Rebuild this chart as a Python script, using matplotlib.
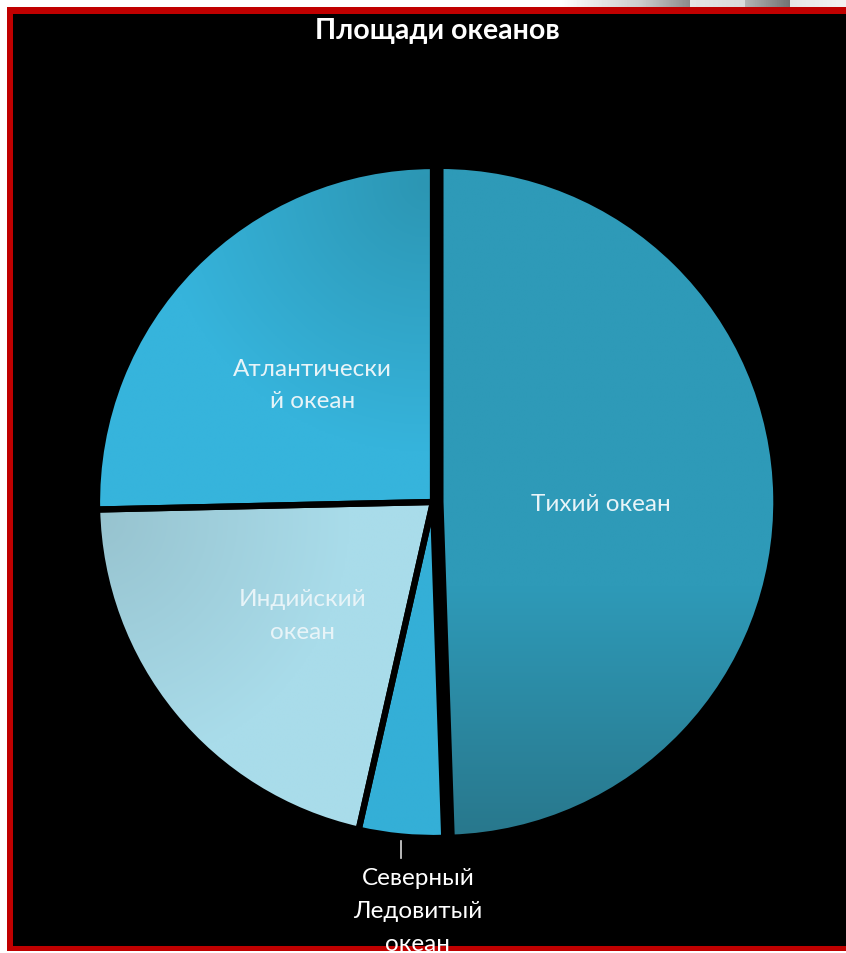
import numpy as np
import matplotlib.pyplot as plt
from matplotlib.patches import Rectangle
from matplotlib.colors import LinearSegmentedColormap

plt.rcParams['font.family'] = ['Lato', 'DejaVu Sans']

# площади океанов, млн км2 (по часовой стрелке от верха)
oceans = ['Тихий океан', 'Северный\nЛедовитый\nокеан', 'Индийский\nокеан', 'Атлантически\nй океан']
area = [178.7, 14.75, 76.2, 91.6]
base_colors = ['#2e9ab8', '#34afd7', '#a9dbe9', '#35b1d9']
# основной и тёмный цвет градиента для каждого сектора
grad_colors = [('#2e9ab8', '#287589'), ('#34afd7', '#31a8cf'),
               ('#a9dcea', '#97c3cf'), ('#36b4dc', '#2c96b3')]

W, H = 846, 954
fig = plt.figure(figsize=(W / 100, H / 100), dpi=100)
fig.patch.set_facecolor('white')

# красная рамка и чёрный фон
fig.patches.append(Rectangle((7 / W, 2 / H), 1, 1 - 10 / H, transform=fig.transFigure,
                             facecolor='#c00000', edgecolor='none', zorder=-2))
fig.patches.append(Rectangle((13 / W, 7 / H), 1, 1 - 22 / H, transform=fig.transFigure,
                             facecolor='black', edgecolor='none', zorder=-1))

# серая полоска сверху справа
top = fig.add_axes([0, 1 - 8 / H, 1, 8 / H])
strip = np.ones(W)
strip[560:640] = np.linspace(1, 0.8, 80)
strip[640:690] = np.linspace(0.8, 0.55, 50)
strip[690:745] = np.linspace(0.9, 0.85, 55)
strip[745:790] = np.linspace(0.7, 0.45, 45)
strip[790:846] = np.linspace(0.9, 0.95, 56)
top.imshow(strip[None, :], cmap='gray', vmin=0, vmax=1, aspect='auto')
top.axis('off')

fig.text(437 / W, 1 - 31 / H, 'Площади океанов', color='white', fontsize=20.5,
         fontweight='bold', ha='center', va='center')

cx, cy, R = 433, 954 - 503, 336
L = 1.1
ax = fig.add_axes([(cx - L * R) / W, (cy - L * R) / H, 2 * L * R / W, 2 * L * R / H])

explode = [0.022, 0, 0, 0]
wedges, texts = ax.pie(area, labels=oceans, colors=base_colors, startangle=90,
                       counterclock=False, explode=explode, labeldistance=0.5,
                       textprops=dict(color='#e8f4f8', fontsize=17.5, ha='center',
                                      va='center', linespacing=1.7),
                       wedgeprops=dict(edgecolor='none'))

yy, xx = np.mgrid[L:-L:400j, -L:L:400j]
shades = [
    np.clip((-0.25 - yy) / 0.8, 0, 1),                              # Тихий: темнеет книзу
    np.zeros_like(yy),                                              # Северный Ледовитый
    np.clip(1 - np.hypot(xx + 1.0, yy + 0.05) / 0.75, 0, 1),       # Индийский: тень слева сверху
    np.clip(1 - np.hypot(xx + 0.02, yy - 0.95) / 0.8, 0, 1),       # Атлантический: тень у верха
]
for w, (c1, c2), g in zip(wedges, grad_colors, shades):
    cmap = LinearSegmentedColormap.from_list('g', [c1, c2])
    im = ax.imshow(g, extent=[-L, L, -L, L], cmap=cmap, vmin=0, vmax=1,
                   zorder=1.5, interpolation='bilinear')
    im.set_clip_path(w)

edges, _ = ax.pie(area, startangle=90, counterclock=False, explode=explode,
                  wedgeprops=dict(facecolor='none', edgecolor='black', linewidth=4.5))
for e in edges:
    e.set_zorder(2)
ax.set_xlim(-L, L)
ax.set_ylim(-L, L)
ax.axis('off')

for t in texts:
    t.set_zorder(3)
texts[0].set_position((0.5, -0.005))
x2, y2 = texts[2].get_position()
texts[2].set_position((x2, y2 - 0.02))

# подпись Северного Ледовитого снаружи с выноской
arc = wedges[1]
mid = np.deg2rad((arc.theta1 + arc.theta2) / 2)
lx = np.cos(mid)
ax.plot([lx, lx], [-1.01, -1.06], color='#d9d9d9', lw=1.2, zorder=3)
texts[1].set_position((lx + 0.05, -1.215))
texts[1].set_color('white')

fig.savefig('out.png', dpi=100, facecolor=fig.get_facecolor())
